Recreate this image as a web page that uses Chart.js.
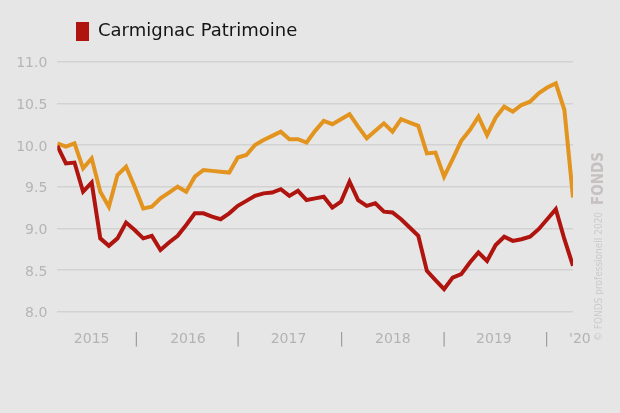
<!DOCTYPE html>
<html>
<head>
<meta charset="utf-8">
<script src="https://cdn.jsdelivr.net/npm/chart.js@4.4.1/dist/chart.umd.min.js"></script>
<style>
  html, body { margin: 0; padding: 0; background: #e6e6e6; }
  canvas { display: block; }
</style>
</head>
<body>
<canvas id="chart" width="620" height="413"></canvas>
<script>
// monthly values, Mar 2015 .. Mar 2020 (index 0..60)
const fundName = "Carmignac Patrimoine";
const fundValues = [
  9.99, 9.78, 9.79, 9.44, 9.55, 8.88, 8.79, 8.88, 9.07, 8.98,
  8.88, 8.91, 8.74, 8.83, 8.91, 9.04, 9.18, 9.18, 9.14, 9.11,
  9.18, 9.27, 9.33, 9.39, 9.42, 9.43, 9.47, 9.39, 9.45, 9.34,
  9.36, 9.38, 9.25, 9.32, 9.56, 9.34, 9.27, 9.30, 9.20, 9.19,
  9.11, 9.01, 8.91, 8.49, 8.38, 8.27, 8.41, 8.45, 8.59, 8.71,
  8.61, 8.80, 8.90, 8.85, 8.87, 8.90, 8.99, 9.11, 9.23, 8.87,
  8.55
];
const peerValues = [
  10.02, 9.98, 10.02, 9.72, 9.84, 9.44, 9.26, 9.64, 9.74, 9.50,
  9.24, 9.26, 9.36, 9.43, 9.50, 9.44, 9.62, 9.70, 9.69, 9.68,
  9.67, 9.85, 9.88, 10.00, 10.06, 10.11, 10.16, 10.07, 10.07, 10.03,
  10.17, 10.29, 10.25, 10.31, 10.37, 10.22, 10.08, 10.17, 10.26, 10.16,
  10.31, 10.27, 10.23, 9.90, 9.91, 9.62, 9.83, 10.05, 10.18, 10.34,
  10.12, 10.33, 10.46, 10.40, 10.48, 10.52, 10.62, 10.69, 10.74, 10.42,
  9.37
];
const xTickPos = [4.0, 9.2, 15.2, 21.05, 26.9, 33.07, 39.05, 45.0, 50.8, 56.93, 60.8];
const xTickText = ["2015", "|", "2016", "|", "2017", "|", "2018", "|", "2019", "|", "'20"];
const yMin = 8, yMax = 11, yStep = 0.5;

const RED = "#b0140f";
const ORANGE = "#e2941e";
const FONT = "DejaVu Sans";

const legendShift = {
  id: "legendShift",
  afterLayout(chart) {
    chart.legend.left += 66;
    chart.legend.right += 66;
  }
};

const watermark = {
  id: "watermark",
  afterDraw(chart) {
    const ctx = chart.ctx;
    ctx.save();
    ctx.translate(599, 341);
    ctx.rotate(-Math.PI / 2);
    ctx.textAlign = "left";
    ctx.textBaseline = "middle";
    ctx.font = '10px "Liberation Sans Narrow", "DejaVu Sans Condensed", sans-serif';
    ctx.fillStyle = "#cacaca";
    const small = "\u00a9 FONDS professionell 2020";
    ctx.fillText(small, 0, 0);
    const w = ctx.measureText(small).width;
    ctx.font = 'bold 15px "Liberation Sans Narrow", "DejaVu Sans Condensed", sans-serif';
    ctx.fillStyle = "#c6c0c0";
    ctx.fillText("FONDS", w + 7, 0);
    ctx.restore();
  }
};

const toPoints = (arr) => arr.map((v, i) => ({ x: i, y: v }));

new Chart(document.getElementById("chart"), {
  type: "line",
  data: {
    datasets: [
      {
        label: fundName,
        data: toPoints(fundValues),
        borderColor: RED,
        backgroundColor: RED,
        borderWidth: 4,
        pointRadius: 0,
        tension: 0,
        fill: false
      },
      {
        label: "",
        data: toPoints(peerValues),
        borderColor: ORANGE,
        backgroundColor: ORANGE,
        borderWidth: 4,
        pointRadius: 0,
        tension: 0,
        fill: false
      }
    ]
  },
  options: {
    responsive: false,
    animation: false,
    devicePixelRatio: 1,
    layout: { padding: { left: 0, right: 47, top: 12, bottom: 0 } },
    plugins: {
      tooltip: { enabled: false },
      legend: {
        position: "top",
        align: "start",
        labels: {
          boxWidth: 13,
          boxHeight: 19,
          padding: 10,
          color: "#151515",
          font: { family: FONT, size: 18 },
          generateLabels(chart) {
            return Chart.defaults.plugins.legend.labels.generateLabels(chart)
              .filter((it) => it.datasetIndex === 0)
              .map((it) => Object.assign(it, { lineWidth: 0 }));
          }
        }
      },
      subtitle: {
        display: true,
        text: "",
        weight: 500,
        padding: 0,
        font: { size: 10.7, lineHeight: 1 }
      }
    },
    scales: {
      x: {
        type: "linear",
        min: 0,
        max: 60,
        grid: { display: false },
        border: { display: false },
        afterBuildTicks(s) {
          s.ticks = xTickPos.map((v) => ({ value: v }));
        },
        afterFit(s) { s.height = 101.3; },
        ticks: {
          autoSkip: false,
          maxRotation: 0,
          padding: 11,
          font: { family: FONT, size: 14 },
          color: (c) => (xTickText[c.index] === "|" ? "#9c9c9c" : "#b3b3b3"),
          callback: (v, i) => xTickText[i]
        }
      },
      y: {
        min: yMin,
        max: yMax,
        grid: { color: "#d2d2d2", lineWidth: 1.5, drawTicks: false },
        border: { display: false },
        afterFit(s) { s.width = 57.3; },
        ticks: {
          stepSize: yStep,
          padding: 10,
          labelOffset: 2,
          font: { family: FONT, size: 14 },
          color: "#b5b5b5",
          callback: (v) => Number(v).toFixed(1)
        }
      }
    }
  },
  plugins: [legendShift, watermark]
});
</script>
</body>
</html>
